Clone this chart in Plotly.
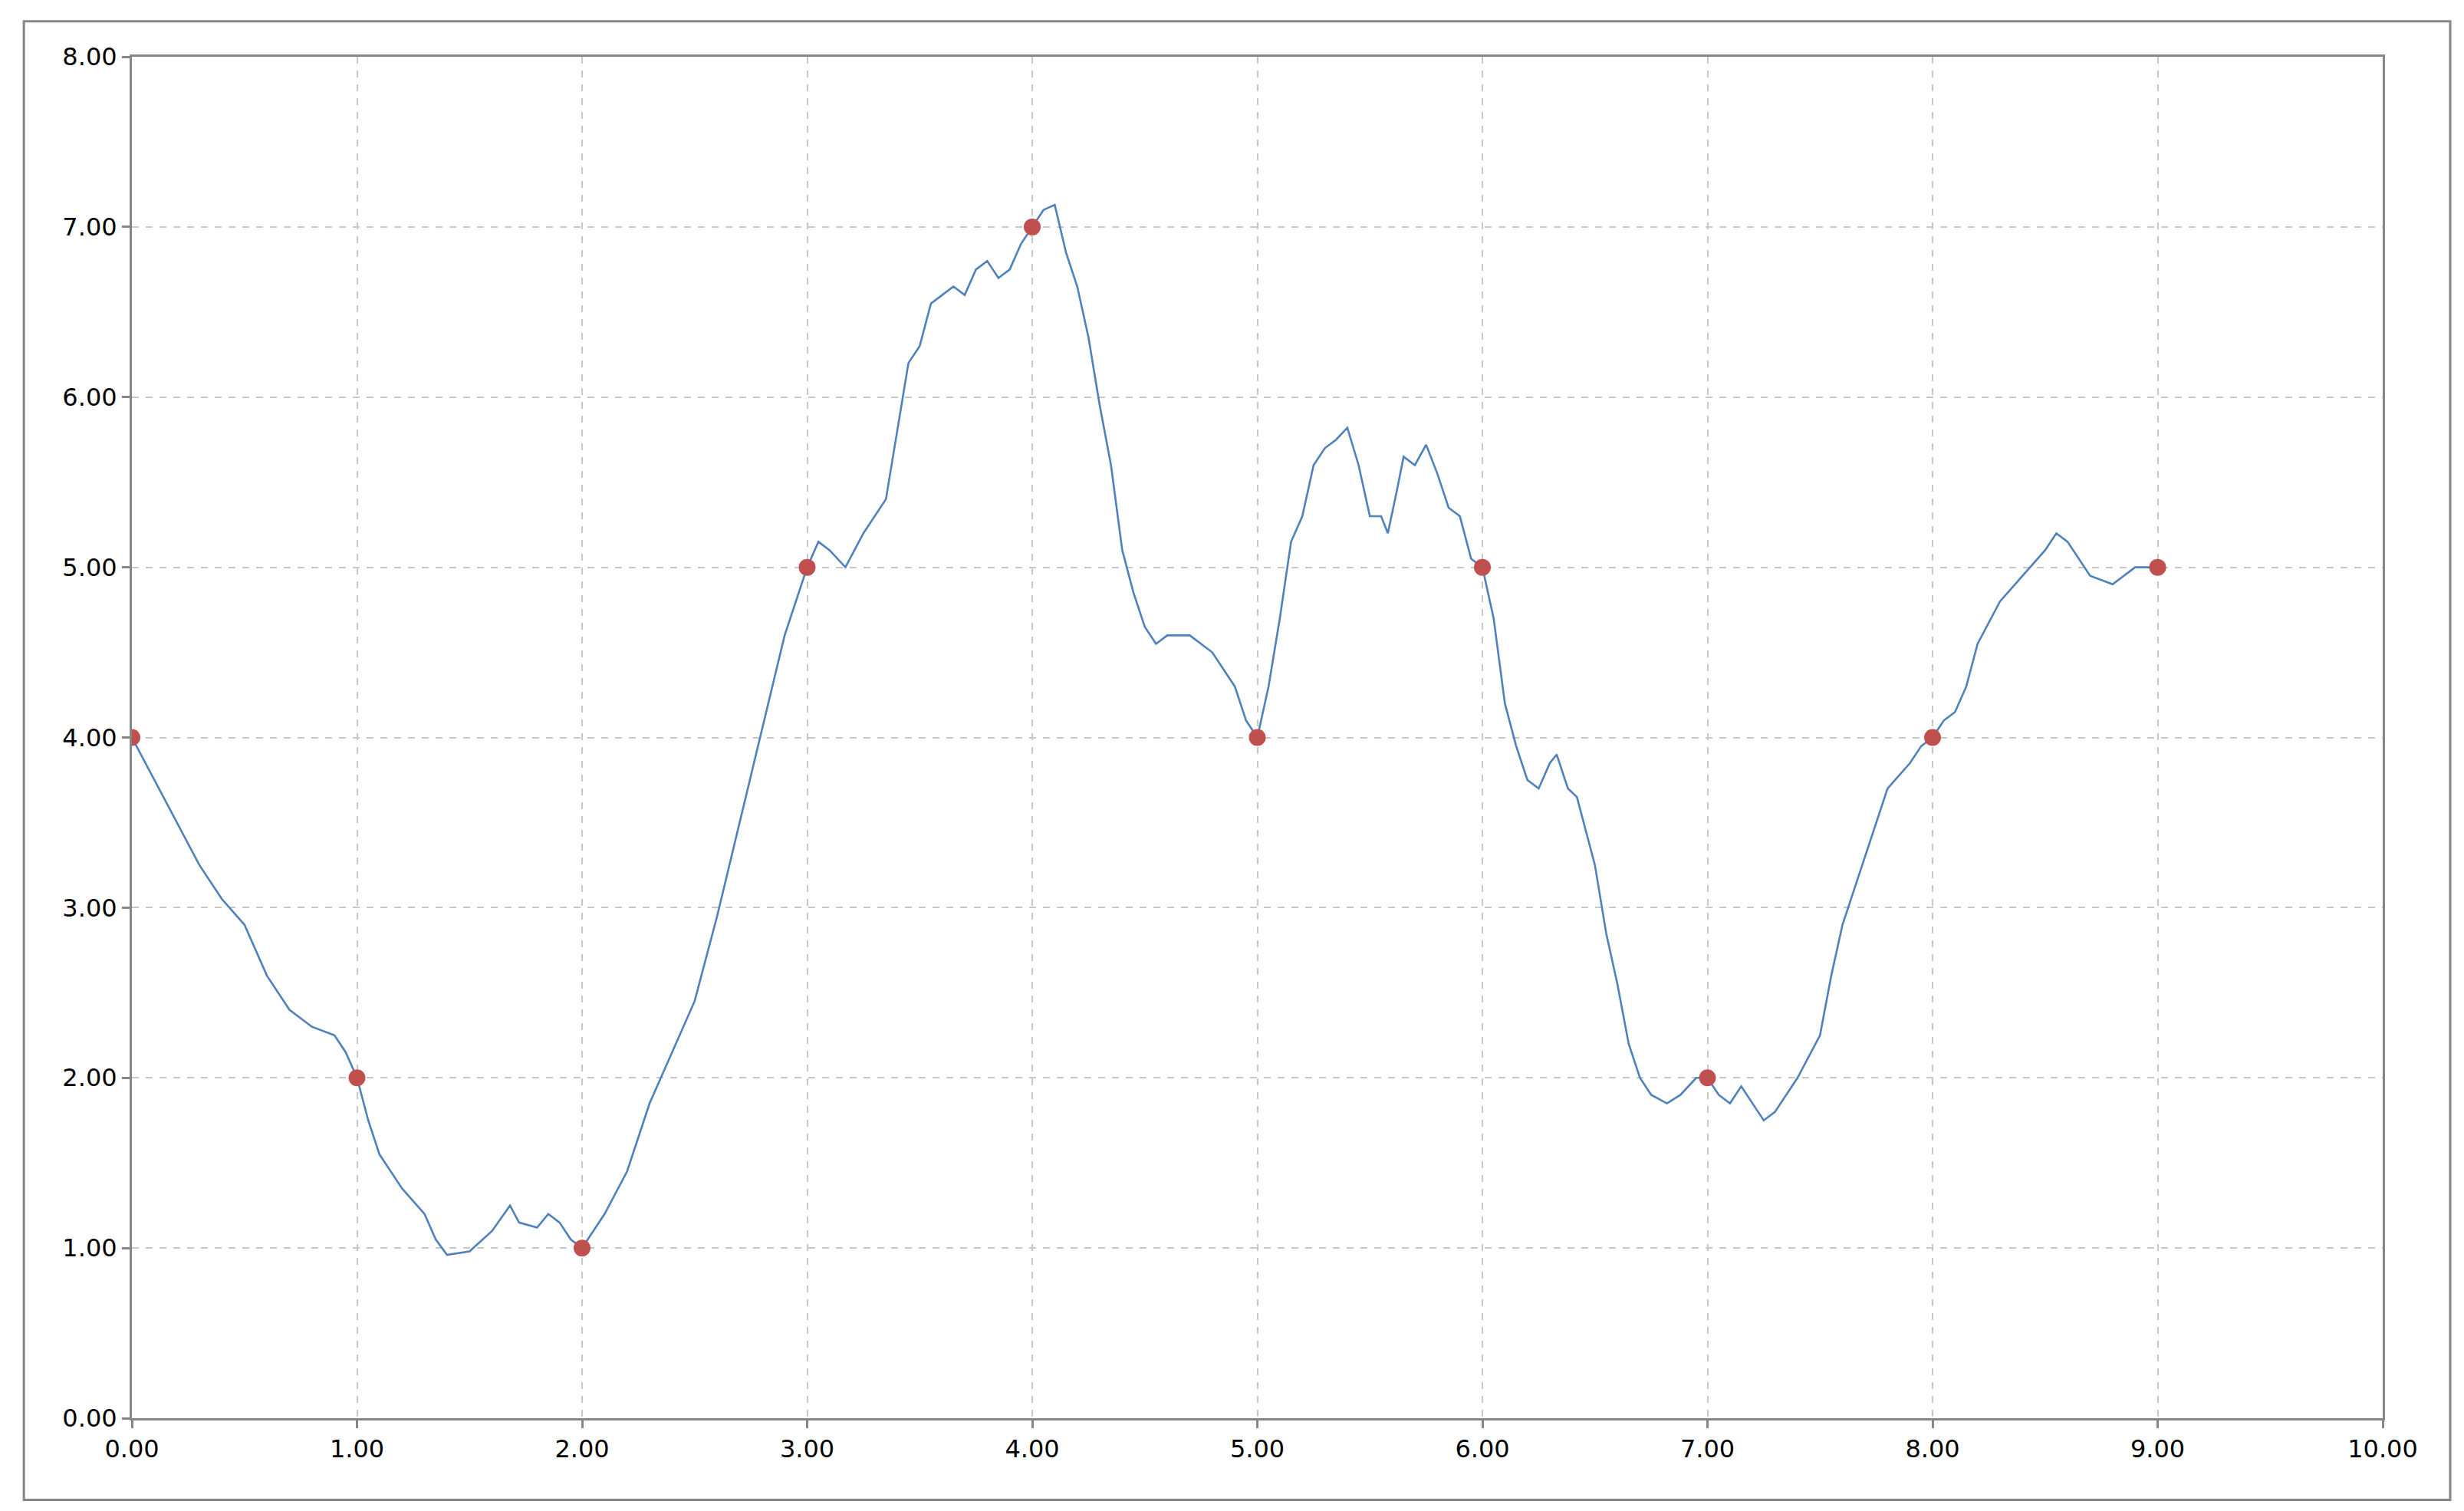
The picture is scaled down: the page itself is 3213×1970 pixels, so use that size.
import plotly.graph_objects as go

# path
line_x = [0, 0.1, 0.2, 0.3, 0.4, 0.5, 0.55, 0.6, 0.7, 0.8, 0.9, 0.95, 1.0, 1.05, 1.1, 1.2, 1.3, 1.35, 1.4, 1.5,
          1.6, 1.68, 1.72, 1.8, 1.85, 1.9, 1.95, 2.0, 2.1, 2.2, 2.3, 2.4, 2.5, 2.6, 2.7, 2.8, 2.9, 3.0, 3.05,
          3.1, 3.17, 3.25, 3.3, 3.35, 3.4, 3.45, 3.5, 3.55, 3.6, 3.65, 3.7, 3.75, 3.8, 3.85, 3.9, 3.95, 4.0,
          4.05, 4.1, 4.15, 4.2, 4.25, 4.3, 4.35, 4.4, 4.45, 4.5, 4.55, 4.6, 4.7, 4.8, 4.9, 4.95, 5.0, 5.05,
          5.1, 5.15, 5.2, 5.25, 5.3, 5.35, 5.4, 5.45, 5.5, 5.55, 5.58, 5.62, 5.65, 5.7, 5.75, 5.8, 5.85, 5.9,
          5.95, 6.0, 6.05, 6.1, 6.15, 6.2, 6.25, 6.3, 6.33, 6.38, 6.42, 6.5, 6.55, 6.6, 6.65, 6.7, 6.75, 6.82,
          6.88, 6.95, 7.0, 7.05, 7.1, 7.15, 7.2, 7.25, 7.3, 7.35, 7.4, 7.5, 7.55, 7.6, 7.7, 7.8, 7.9, 7.95,
          8.0, 8.05, 8.1, 8.15, 8.2, 8.3, 8.4, 8.5, 8.55, 8.6, 8.7, 8.8, 8.9, 9.0]
line_y = [4.0, 3.75, 3.5, 3.25, 3.05, 2.9, 2.75, 2.6, 2.4, 2.3, 2.25, 2.15, 2.0, 1.75, 1.55, 1.35, 1.2, 1.05, 0.96, 0.98,
          1.1, 1.25, 1.15, 1.12, 1.2, 1.15, 1.05, 1.0, 1.2, 1.45, 1.85, 2.15, 2.45, 2.95, 3.5, 4.05, 4.6, 5.0, 5.15,
          5.1, 5.0, 5.2, 5.3, 5.4, 5.8, 6.2, 6.3, 6.55, 6.6, 6.65, 6.6, 6.75, 6.8, 6.7, 6.75, 6.9, 7.0,
          7.1, 7.13, 6.85, 6.65, 6.35, 5.95, 5.6, 5.1, 4.85, 4.65, 4.55, 4.6, 4.6, 4.5, 4.3, 4.1, 4.0, 4.3,
          4.7, 5.15, 5.3, 5.6, 5.7, 5.75, 5.82, 5.6, 5.3, 5.3, 5.2, 5.45, 5.65, 5.6, 5.72, 5.55, 5.35, 5.3,
          5.05, 5.0, 4.7, 4.2, 3.95, 3.75, 3.7, 3.85, 3.9, 3.7, 3.65, 3.25, 2.85, 2.55, 2.2, 2.0, 1.9, 1.85,
          1.9, 2.0, 2.0, 1.9, 1.85, 1.95, 1.85, 1.75, 1.8, 1.9, 2.0, 2.25, 2.6, 2.9, 3.3, 3.7, 3.85, 3.95,
          4.0, 4.1, 4.15, 4.3, 4.55, 4.8, 4.95, 5.1, 5.2, 5.15, 4.95, 4.9, 5.0, 5.0]

point_x = [0, 1, 2, 3, 4, 5, 6, 7, 8, 9]
point_y = [4, 2, 1, 5, 7, 4, 5, 2, 4, 5]

fig = go.Figure()
fig.add_trace(go.Scatter(x=line_x, y=line_y, mode="lines",
                         line=dict(color="#4f81bd", width=2.6)))
fig.add_trace(go.Scatter(x=point_x, y=point_y, mode="markers",
                         marker=dict(color="#c0504d", size=22)))

axis_common = dict(
    showline=True, linecolor="#868686", linewidth=3, mirror=True,
    showgrid=True, gridcolor="#c8c8c8", griddash="dash", gridwidth=2,
    ticks="outside", ticklen=10, tickcolor="#868686", tickwidth=3,
    tickformat=".2f", zeroline=False,
    tickfont=dict(family="DejaVu Sans", size=32, color="#000000"),
)
fig.update_xaxes(range=[0, 10], dtick=1, **axis_common)
fig.update_yaxes(range=[0, 8], dtick=1, **axis_common)

fig.update_layout(
    width=3213, height=1970,
    showlegend=False,
    plot_bgcolor="white", paper_bgcolor="white",
    margin=dict(l=164, r=114, t=66, b=129),
    shapes=[dict(type="rect", xref="paper", yref="paper",
                 x0=-0.048, x1=1.03, y0=-0.06, y1=1.026,
                 line=dict(color="#868686", width=3))],
)

fig.write_html("out.html")
